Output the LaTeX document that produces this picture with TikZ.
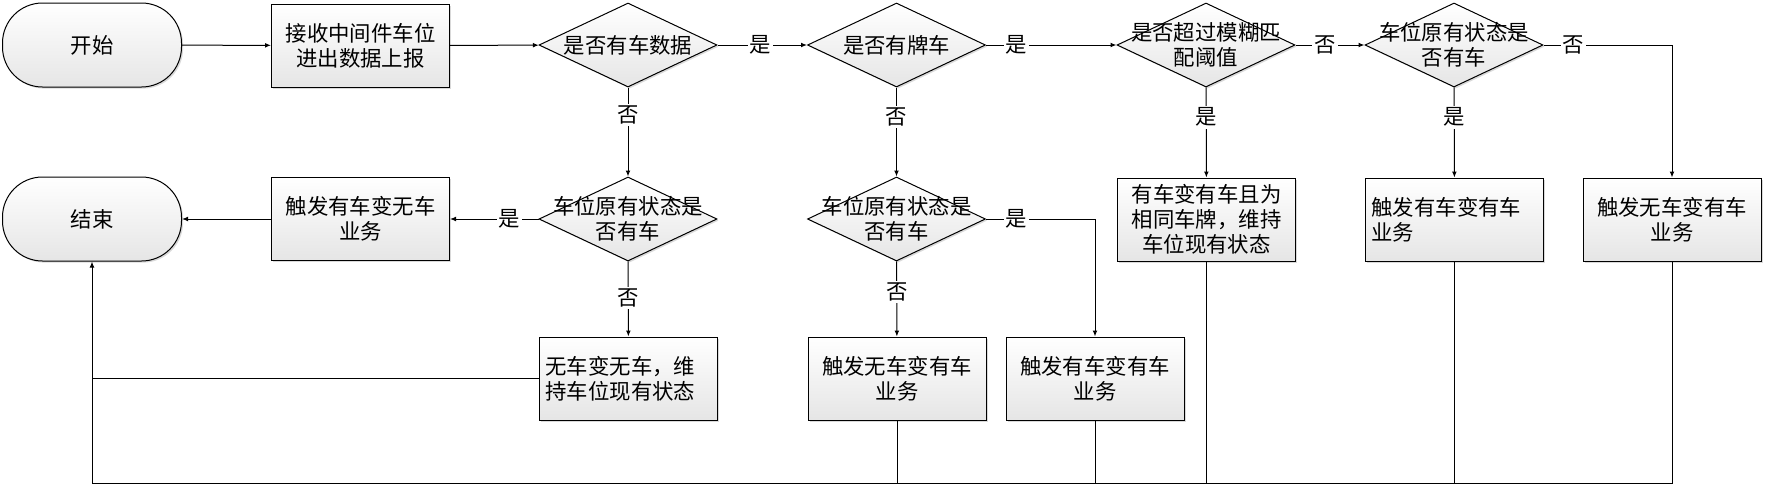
\documentclass[tikz,border=0pt]{standalone}
\usepackage{fontspec}
\setmainfont{Noto Sans CJK SC}
\usetikzlibrary{shapes.geometric,arrows.meta,shadows}
\begin{document}
\begin{tikzpicture}[x=.5pt,y=-.5pt,
  every node/.style={font=\fontsize{10.7pt}{12.5pt}\selectfont},
  shade/.style={draw, line width=.5pt, top color=white, bottom color=black!10,
    drop shadow={shadow xshift=.8pt, shadow yshift=-.8pt, fill=black, opacity=.15}},
  term/.style={shade, rounded corners=20pt, minimum width=89.5pt, minimum height=42pt},
  proc/.style={shade, rectangle, minimum width=89pt, minimum height=41.5pt, inner sep=2pt},
  decide/.style={shade, diamond, inner sep=0pt, minimum width=89pt, minimum height=42pt},
  dtext/.style={align=center, inner sep=0pt},
  lbl/.style={fill=white, inner sep=1pt},
  arr/.style={line width=.5pt, -{Latex[length=3pt,width=2.4pt]}},
  ln/.style={line width=.5pt}]
\useasboundingbox (0,0) rectangle (1766,489);
\node[term] (start) at (92,45){开始};
\node[proc, align=center] (recv) at (360.5,45.5){接收中间件车位\\进出数据上报};
\node[decide, label={[dtext]center:是否有车数据}] (hasdata) at (628,45){};
\node[decide, label={[dtext]center:是否有牌车}] (hasplate) at (896.5,45){};
\node[decide, label={[dtext]center:{是否超过模糊匹\\配阈值}}] (fuzzy) at (1206,45){};
\node[decide, label={[dtext]center:{车位原有状态是\\否有车}}] (state3) at (1454,45){};
\node[term] (end) at (92,219){结束};
\node[proc, align=center] (biz1) at (360.5,219){触发有车变无车\\业务};
\node[decide, label={[dtext]center:{车位原有状态是\\否有车}}] (state1) at (628,219){};
\node[decide, label={[dtext]center:{车位原有状态是\\否有车}}] (state2) at (896.5,219){};
\node[proc, align=center] (keep2) at (1206.5,219.5){有车变有车且为\\相同车牌，维持\\车位现有状态};
\node[proc, align=left, text width=83pt] (biz4) at (1454.5,219.5){触发有车变有车\\业务};
\node[proc, align=center] (biz5) at (1672,219.5){触发无车变有车\\业务};
\node[proc, align=left, text width=83pt] (keep1) at (628.5,378.5){无车变无车，维\\持车位现有状态};
\node[proc, align=center] (biz2) at (897,378.5){触发无车变有车\\业务};
\node[proc, align=center] (biz3) at (1095,378.5){触发有车变有车\\业务};
\coordinate (bot) at (92,483);
\draw[arr] (start) -- (recv);
\draw[arr] (recv) -- (hasdata);
\draw[arr] (hasdata) -- node[lbl, pos=.48]{是} (hasplate);
\draw[arr] (hasplate) -- node[lbl, pos=.235]{是} (fuzzy);
\draw[arr] (fuzzy) -- node[lbl, pos=.43]{否} (state3);
\draw[arr] (state3) -| node[lbl, pos=.116]{否} (biz5);
\draw[arr] (state3) -- node[lbl, pos=.33]{是} (biz4);
\draw[arr] (fuzzy) -- node[lbl, pos=.33]{是} (keep2);
\draw[arr] (hasplate) -- node[lbl, pos=.33]{否} (state2);
\draw[arr] (state2) -| node[lbl, pos=.14]{是} (biz3);
\draw[arr] (state2) -- node[lbl, pos=.41]{否} (biz2);
\draw[arr] (hasdata) -- node[lbl, pos=.31]{否} (state1);
\draw[arr] (state1) -- node[lbl, pos=.33]{是} (biz1);
\draw[arr] (biz1) -- (end);
\draw[arr] (state1) -- node[lbl, pos=.49]{否} (keep1);
\draw[ln] (keep1) -- (keep1 -| end);
\draw[arr] (biz5) |- (bot) -- (end);
\draw[ln] (biz2) -- (biz2 |- bot);
\draw[ln] (biz3) -- (biz3 |- bot);
\draw[ln] (keep2) -- (keep2 |- bot);
\draw[ln] (biz4) -- (biz4 |- bot);
\end{tikzpicture}
\end{document}
